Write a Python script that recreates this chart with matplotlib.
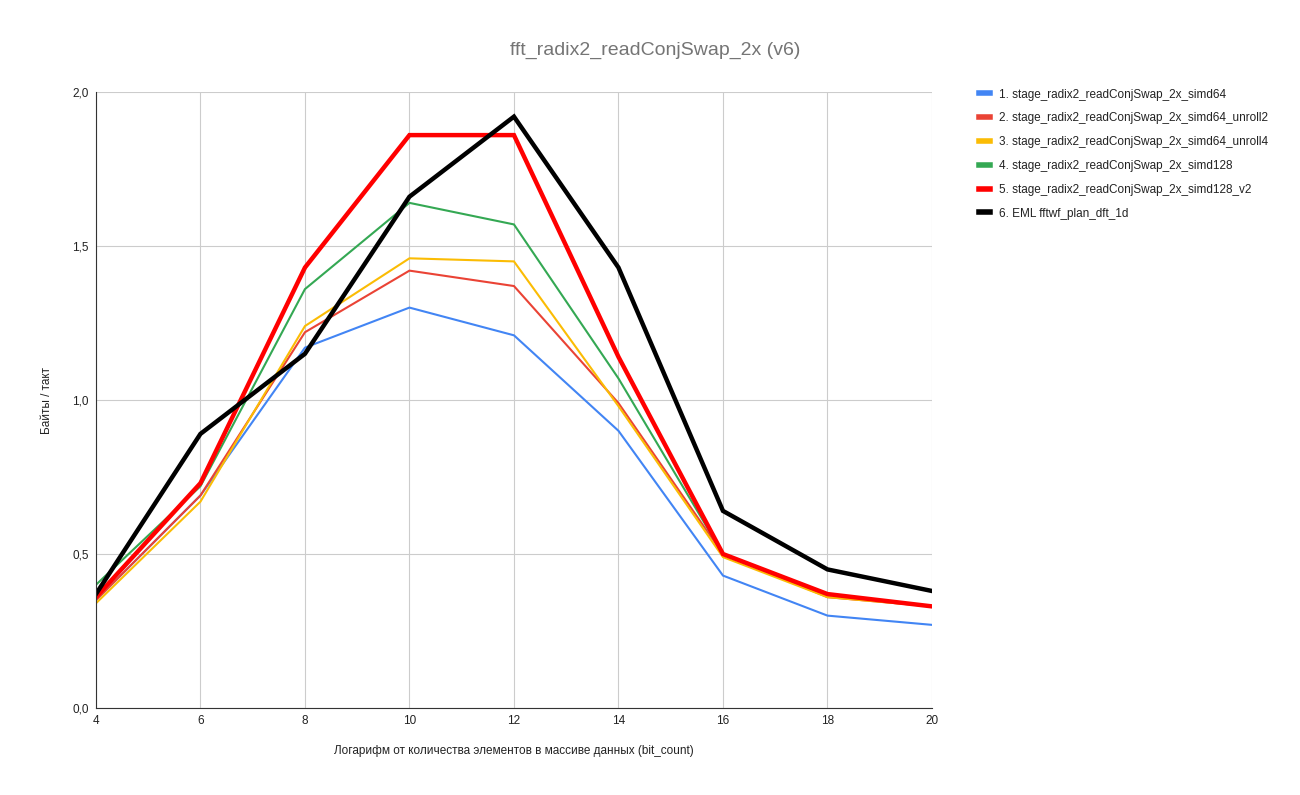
import matplotlib
matplotlib.use("Agg")
import matplotlib.pyplot as plt
from matplotlib.lines import Line2D
from matplotlib.ticker import FuncFormatter

bit_count = [4, 6, 8, 10, 12, 14, 16, 18, 20]

simd64 = [0.35, 0.69, 1.17, 1.30, 1.21, 0.90, 0.43, 0.30, 0.27]
simd64_unroll2 = [0.35, 0.69, 1.22, 1.42, 1.37, 0.99, 0.50, 0.36, 0.33]
simd64_unroll4 = [0.34, 0.67, 1.24, 1.46, 1.45, 0.98, 0.49, 0.36, 0.33]
simd128 = [0.40, 0.72, 1.36, 1.64, 1.57, 1.07, 0.50, 0.37, 0.33]
simd128_v2 = [0.36, 0.73, 1.43, 1.86, 1.86, 1.14, 0.50, 0.37, 0.33]
eml_fftw = [0.37, 0.89, 1.15, 1.66, 1.92, 1.43, 0.64, 0.45, 0.38]

labels = [
    "1. stage_radix2_readConjSwap_2x_simd64",
    "2. stage_radix2_readConjSwap_2x_simd64_unroll2",
    "3. stage_radix2_readConjSwap_2x_simd64_unroll4",
    "4. stage_radix2_readConjSwap_2x_simd128",
    "5. stage_radix2_readConjSwap_2x_simd128_v2",
    "6. EML fftwf_plan_dft_1d",
]
series = [simd64, simd64_unroll2, simd64_unroll4, simd128, simd128_v2, eml_fftw]
colors = ["#4285F4", "#EA4335", "#FBBC04", "#34A853", "#FF0000", "#000000"]
widths = [1.5, 1.5, 1.5, 1.5, 3.2, 3.2]

plt.rcParams["font.family"] = ["Arial", "Liberation Sans", "DejaVu Sans"]

fig = plt.figure(figsize=(13, 7.95), dpi=100)
ax = fig.add_axes([0.0738, 0.1094, 0.6431, 0.7749])

for ys, color, lw in zip(series, colors, widths):
    ax.plot(bit_count, ys, color=color, linewidth=lw, solid_joinstyle="miter")

ax.set_xlim(4, 20)
ax.set_ylim(0, 2.0)
ax.set_xticks(range(4, 21, 2))
ax.set_yticks([0, 0.5, 1.0, 1.5, 2.0])
ax.yaxis.set_major_formatter(FuncFormatter(lambda v, _: f"{v:.1f}".replace(".", ",")))
ax.grid(True, color="#cccccc", linewidth=0.8)
ax.set_axisbelow(True)
for side in ("top", "right"):
    ax.spines[side].set_visible(False)
ax.spines["left"].set_color("#333333")
ax.spines["bottom"].set_color("#333333")
ax.tick_params(length=0, labelsize=8.5, colors="#222222", pad=5)

ax.set_xlabel("Логарифм от количества элементов в массиве данных (bit_count)",
              fontsize=8.5, color="#222222", labelpad=13)
ax.set_ylabel("Байты / такт", fontsize=8.5, color="#222222", labelpad=14)

fig.text(0.504, 0.936, "fft_radix2_readConjSwap_2x (v6)", ha="center", va="center",
         fontsize=14, color="#757575")

handles = [Line2D([], [], color=c, linewidth=4) for c in colors]
fig.legend(handles, labels, loc="upper left", bbox_to_anchor=(0.745, 0.902),
           frameon=False, fontsize=8.5, handlelength=0.9, handletextpad=0.8,
           labelspacing=1.0, labelcolor="#222222")

fig.savefig("out.png", dpi=100)
